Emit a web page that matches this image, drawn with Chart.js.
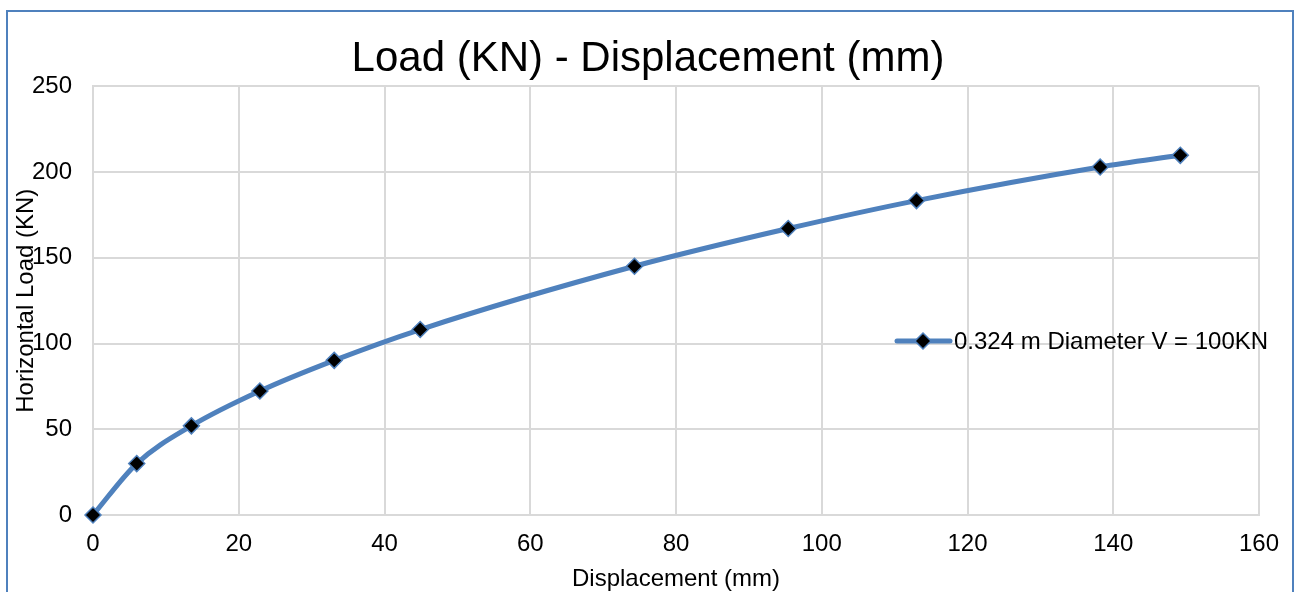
<!DOCTYPE html>
<html>
<head>
<meta charset="utf-8">
<script src="https://cdn.jsdelivr.net/npm/chart.js@4/dist/chart.umd.min.js"></script>
<style>
  html, body { margin: 0; padding: 0; background: #ffffff; overflow: hidden; }
  #wrap { position: relative; width: 1296px; height: 592px; }
  #marco { position: absolute; left: 6px; top: 10px; width: 1284px; height: 600px;
           border: 2px solid #4f81bd; pointer-events: none; }
</style>
</head>
<body>
<div id="wrap">
  <canvas id="grafica" width="1296" height="592"></canvas>
  <div id="marco"></div>
</div>
<script>
// Desplazamiento (mm) vs carga horizontal (KN)
var desplazamiento = [0, 6, 13.5, 22.9, 33.1, 44.9, 74.3, 95.4, 113, 138.2, 149.2];
var carga = [0, 30, 52, 72.3, 90.2, 108.2, 145.1, 167.1, 183.4, 203, 209.8];
var etiquetaSerie = '0.324 m Diameter V = 100KN';
var tituloGrafica = 'Load (KN) - Displacement (mm)';
var tituloX = 'Displacement (mm)';
var tituloY = 'Horizontal Load (KN)';

var azul = '#4f81bd';
var fuente = "'Liberation Sans', Arial, sans-serif";

var puntos = desplazamiento.map(function (d, i) { return { x: d, y: carga[i] }; });

// leyenda dibujada a mano dentro del area de la grafica
var leyendaManual = {
    id: 'leyendaManual',
    afterDatasetsDraw: function (chart) {
        var ctx = chart.ctx;
        var y = 341;
        ctx.save();
        ctx.strokeStyle = azul;
        ctx.lineWidth = 5;
        ctx.lineCap = 'round';
        ctx.beginPath();
        ctx.moveTo(897, y);
        ctx.lineTo(950, y);
        ctx.stroke();
        // marcador rombo
        ctx.fillStyle = '#000000';
        ctx.lineWidth = 1.5;
        ctx.beginPath();
        ctx.moveTo(923, y - 8);
        ctx.lineTo(931, y);
        ctx.lineTo(923, y + 8);
        ctx.lineTo(915, y);
        ctx.closePath();
        ctx.fill();
        ctx.stroke();
        ctx.fillStyle = '#000000';
        ctx.font = '24px ' + fuente;
        ctx.textAlign = 'left';
        ctx.textBaseline = 'middle';
        ctx.fillText(etiquetaSerie, 954, y + 1);
        ctx.restore();
    }
};

var ctx = document.getElementById('grafica').getContext('2d');
var miGrafica = new Chart(ctx, {
    type: 'line',
    data: {
        datasets: [{
            label: etiquetaSerie,
            data: puntos,
            borderColor: azul,
            borderWidth: 5,
            backgroundColor: '#000000',
            pointStyle: 'rectRot',
            pointRadius: 8,
            pointBorderWidth: 1.5,
            pointBorderColor: azul,
            pointBackgroundColor: '#000000',
            cubicInterpolationMode: 'monotone',
            clip: false,
            fill: false
        }]
    },
    options: {
        responsive: false,
        animation: false,
        layout: { padding: 0 },
        plugins: {
            legend: { display: false },
            tooltip: { enabled: false },
            title: {
                display: true,
                text: tituloGrafica,
                color: '#000000',
                font: { family: fuente, size: 42, weight: 'normal', lineHeight: 1.2 },
                padding: { top: 34, bottom: 2 }
            }
        },
        scales: {
            x: {
                type: 'linear',
                min: 0,
                max: 160,
                ticks: {
                    stepSize: 20,
                    color: '#000000',
                    padding: 15,
                    font: { family: fuente, size: 24 }
                },
                grid: { color: '#d9d9d9', lineWidth: 2, drawTicks: false },
                border: { color: '#d9d9d9', width: 2 },
                title: {
                    display: true,
                    text: tituloX,
                    color: '#000000',
                    font: { family: fuente, size: 24, lineHeight: 1 },
                    padding: { top: 0, bottom: 1 }
                },
                afterFit: function (escala) {
                    escala.height = 77;
                    escala.paddingRight = 37;
                }
            },
            y: {
                min: 0,
                max: 250,
                ticks: {
                    stepSize: 50,
                    color: '#000000',
                    padding: 21,
                    font: { family: fuente, size: 24 }
                },
                grid: { color: '#d9d9d9', lineWidth: 2, drawTicks: false },
                border: { color: '#d9d9d9', width: 2 },
                title: {
                    display: true,
                    text: tituloY,
                    color: '#000000',
                    font: { family: fuente, size: 24, lineHeight: 1.2 },
                    padding: { top: 12, bottom: 0 }
                },
                afterFit: function (escala) {
                    escala.width = 93;
                }
            }
        }
    },
    plugins: [leyendaManual]
});
</script>
</body>
</html>
